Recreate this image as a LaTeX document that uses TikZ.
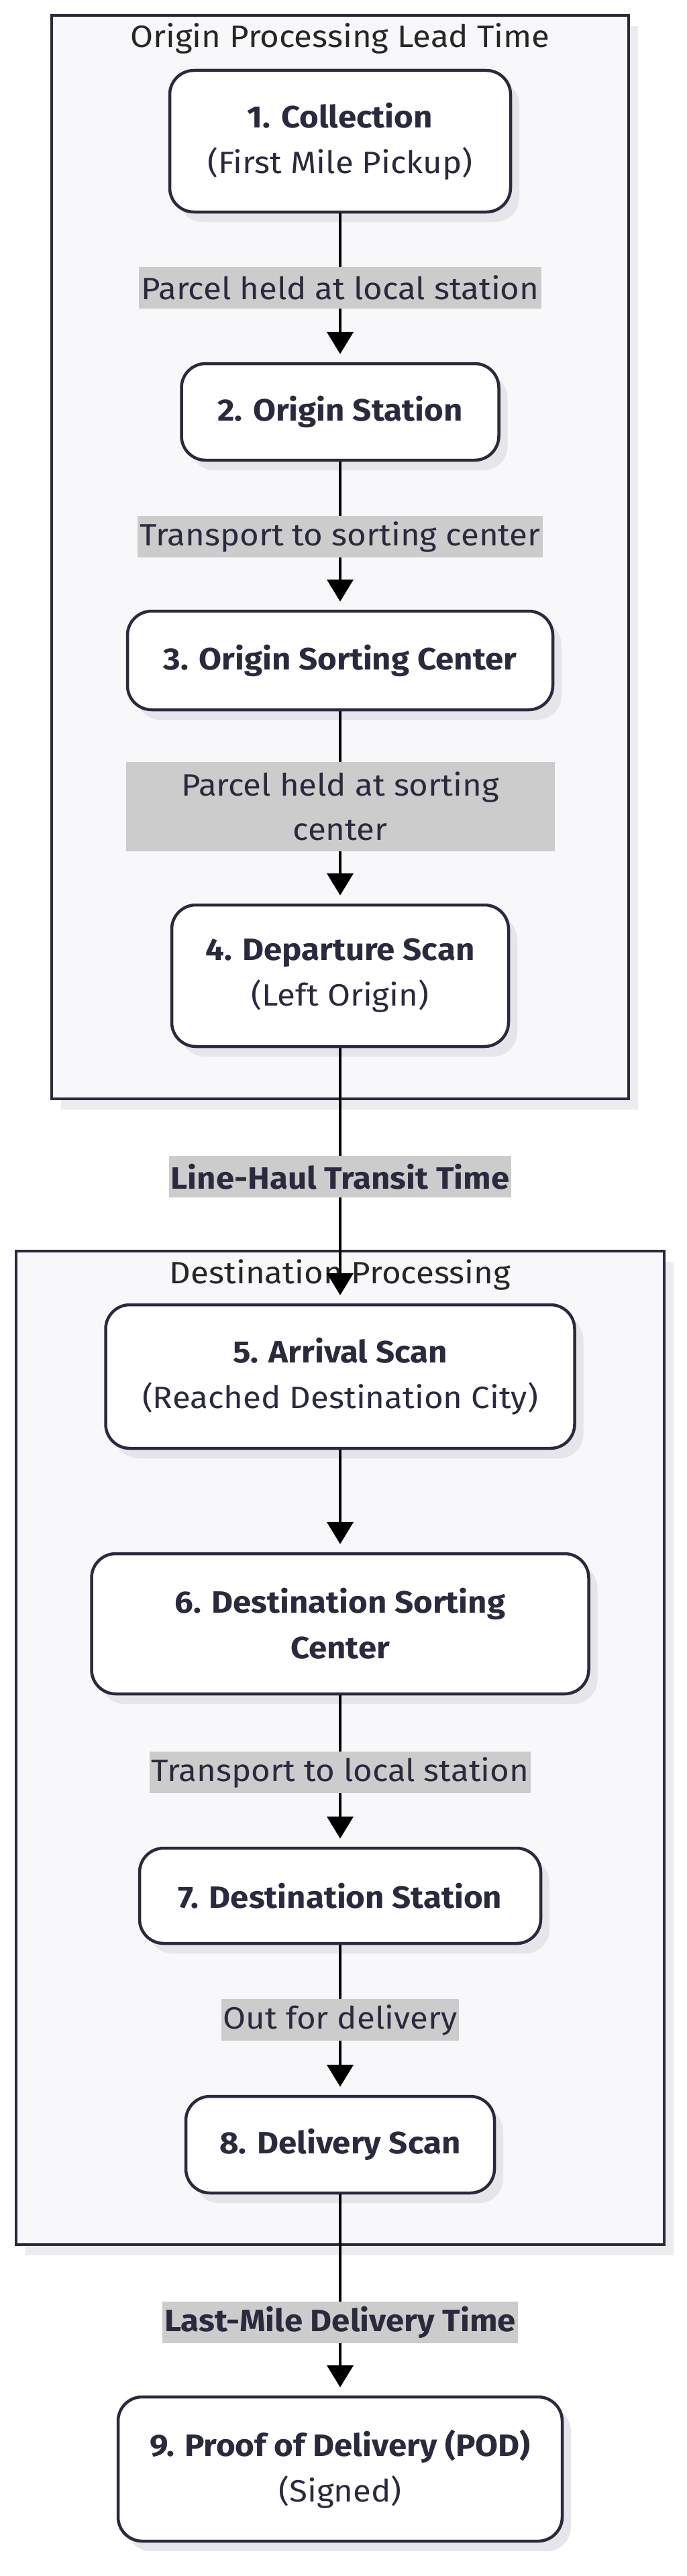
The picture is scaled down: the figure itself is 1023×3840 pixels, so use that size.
\documentclass[tikz,border=0pt]{standalone}
\usepackage{fontspec}
\setmainfont[FakeStretch=1.07]{Fira Sans}
\usetikzlibrary{arrows.meta,shadows}
\definecolor{ink}{RGB}{42,42,62}
\definecolor{clfill}{RGB}{248,248,250}
\definecolor{lblbg}{RGB}{204,204,204}
\definecolor{nshadow}{RGB}{230,230,234}
\definecolor{cshadow}{RGB}{236,236,238}
\tikzset{
  stepbox/.style={draw=ink, line width=4.5pt, fill=white, rounded corners=36pt,
    align=center, text=ink, font=\fontsize{46}{68}\selectfont, inner sep=0pt,
    drop shadow={shadow xshift=13pt, shadow yshift=-15pt, fill=nshadow, opacity=1}},
  cluster/.style={draw=ink, line width=4.5pt, fill=clfill, inner sep=0pt,
    drop shadow={shadow xshift=14pt, shadow yshift=-16pt, fill=cshadow, opacity=1}},
  cltitle/.style={text=black!85, font=\fontsize{46}{52}\selectfont, inner sep=0pt},
  flow/.style={draw=black, line width=4.5pt, -{Triangle[width=39pt,length=33pt]}, shorten >=12pt},
  lbl/.style={fill=lblbg, text=ink, font=\fontsize{46}{66}\selectfont, inner xsep=3pt, inner ysep=0pt,
    minimum height=62pt, align=center}
}
\begin{document}
\begin{tikzpicture}[x=1pt,y=-1pt]
\useasboundingbox (0,0) rectangle (1023,3840);
% clusters
\node[cluster, minimum width=860pt, minimum height=1615pt] (orig) at (507,830.5) {};
\node[cluster, minimum width=966pt, minimum height=1481pt] (dest) at (507,2605.5) {};
\node[cltitle] (origt) at (507,57) {Origin Processing Lead Time};
\node[cltitle] (destt) at (507,1900) {Destination Processing};
% steps
\node[stepbox, minimum width=508pt, minimum height=211pt] (n1) at (507,210.5) {\textbf{1. Collection}\\(First Mile Pickup)};
\node[stepbox, minimum width=473pt, minimum height=144pt] (n2) at (507,614) {\textbf{2. Origin Station}};
\node[stepbox, minimum width=634pt, minimum height=147pt] (n3) at (507,984.5) {\textbf{3. Origin Sorting Center}};
\node[stepbox, minimum width=502pt, minimum height=211pt] (n4) at (507,1454.5) {\textbf{4. Departure Scan}\\(Left Origin)};
\node[stepbox, minimum width=699pt, minimum height=214pt] (n5) at (507,2052) {\textbf{5. Arrival Scan}\\(Reached Destination City)};
\node[stepbox, minimum width=741pt, minimum height=209pt] (n6) at (507,2420.5) {\textbf{6. Destination Sorting}\\\textbf{Center}};
\node[stepbox, minimum width=598pt, minimum height=142pt] (n7) at (507,2826) {\textbf{7. Destination Station}};
\node[stepbox, minimum width=460pt, minimum height=144pt] (n8) at (507,3197) {\textbf{8. Delivery Scan}};
\node[stepbox, minimum width=662pt, minimum height=215pt] (n9) at (507,3680.5) {\textbf{9. Proof of Delivery (POD)}\\(Signed)};
% connectors
\draw[flow] (n1) -- (n2);
\draw[flow] (n2) -- (n3);
\draw[flow] (n3) -- (n4);
\draw[flow] (n4) -- (n5);
\draw[flow] (n5) -- (n6);
\draw[flow] (n6) -- (n7);
\draw[flow] (n7) -- (n8);
\draw[flow] (n8) -- (n9);
% labels
\node[lbl] (l1) at (507,429) {Parcel held at local station};
\node[lbl] (l2) at (507,800) {Transport to sorting center};
\node[lbl, minimum width=639pt, minimum height=133pt] (l3) at (507,1202) {Parcel held at sorting\\center};
\node[lbl, font=\bfseries\fontsize{46}{66}\selectfont] (l4) at (507,1754) {Line-Haul Transit Time};
\node[lbl] (l6) at (507,2642) {Transport to local station};
\node[lbl] (l7) at (507,3011) {Out for delivery};
\node[lbl, font=\bfseries\fontsize{46}{66}\selectfont] (l8) at (507,3462) {Last-Mile Delivery Time};
\end{tikzpicture}
\end{document}
